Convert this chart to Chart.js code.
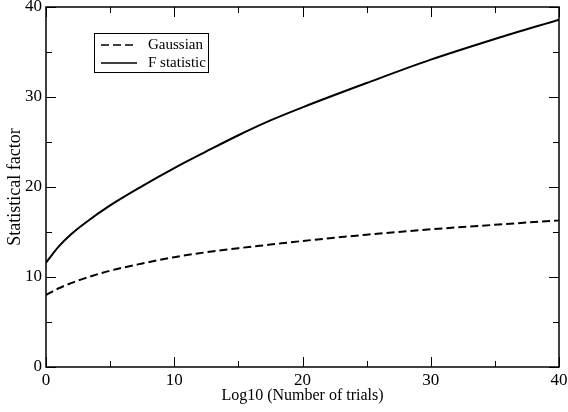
<!DOCTYPE html>
<html lang="en">
<head>
    <meta charset="UTF-8">
    <title>Statistical factor</title>
    <script src="https://cdn.jsdelivr.net/npm/chart.js@4.4.1/dist/chart.umd.min.js"></script>
    <style>
        body, html {
            margin: 0;
            padding: 0;
            background: #fff;
        }
        canvas {
            display: block;
        }
    </style>
</head>
<body>
    <canvas id="factorChart" width="568" height="412"></canvas>

    <script>
        // values
        const trials = [0, 1, 2, 3, 5, 7.5, 10, 12.5, 15, 17.5, 20, 25, 30, 35, 40];
        const gaussian = [8.0, 8.75, 9.35, 9.85, 10.7, 11.5, 12.2, 12.75, 13.2, 13.6, 14.0, 14.7, 15.3, 15.8, 16.3];
        const fStatistic = [11.6, 13.4, 14.8, 15.95, 17.95, 20.1, 22.1, 23.95, 25.75, 27.4, 28.85, 31.55, 34.15, 36.45, 38.6];
        const seriesNames = ['Gaussian', 'F statistic'];
        const tickMarks = [0, 5, 10, 15, 20, 25, 30, 35, 40];

        const serif = '"Liberation Serif", "Times New Roman", serif';
        Chart.defaults.font.family = serif;
        Chart.defaults.color = '#000';

        function toPoints(ys) {
            return trials.map((t, i) => ({ x: t, y: ys[i] }));
        }

        // frame, inward ticks on all four sides, and the boxed legend
        const framePlugin = {
            id: 'frame',
            afterDraw(chart) {
                const ctx = chart.ctx;
                const a = chart.chartArea;
                const xs = chart.scales.x;
                const ys = chart.scales.y;
                ctx.save();
                ctx.strokeStyle = '#000';
                ctx.lineWidth = 1;
                for (const v of tickMarks) {
                    const len = v % 10 === 0 ? 10 : 6;
                    const px = Math.round(xs.getPixelForValue(v)) + 0.5;
                    const py = Math.round(ys.getPixelForValue(v)) + 0.5;
                    ctx.beginPath();
                    ctx.moveTo(px, a.bottom); ctx.lineTo(px, a.bottom - len);
                    ctx.moveTo(px, a.top); ctx.lineTo(px, a.top + len);
                    ctx.moveTo(a.left, py); ctx.lineTo(a.left + len, py);
                    ctx.moveTo(a.right, py); ctx.lineTo(a.right - len, py);
                    ctx.stroke();
                }
                ctx.lineWidth = 1.5;
                ctx.strokeRect(a.left, a.top, a.right - a.left, a.bottom - a.top);

                // legend
                const bx = a.left + 48, by = a.top + 26;
                ctx.lineWidth = 1;
                ctx.strokeRect(bx + 0.5, by + 0.5, 114, 39);
                ctx.font = '15px ' + serif;
                ctx.fillStyle = '#000';
                ctx.textBaseline = 'middle';
                chart.data.datasets.forEach((ds, i) => {
                    const ly = by + 12 + i * 18;
                    ctx.lineWidth = 1.5;
                    ctx.setLineDash(ds.borderDash || []);
                    ctx.beginPath();
                    ctx.moveTo(bx + 7, ly);
                    ctx.lineTo(bx + 43, ly);
                    ctx.stroke();
                    ctx.setLineDash([]);
                    ctx.fillText(ds.label, bx + 54, ly);
                });
                ctx.restore();
            }
        };

        new Chart(document.getElementById('factorChart').getContext('2d'), {
            type: 'line',
            data: {
                datasets: [{
                    label: seriesNames[0],
                    data: toPoints(gaussian),
                    borderColor: '#000',
                    borderWidth: 2,
                    borderDash: [8, 4],
                    pointRadius: 0,
                    cubicInterpolationMode: 'monotone'
                }, {
                    label: seriesNames[1],
                    data: toPoints(fStatistic),
                    borderColor: '#000',
                    borderWidth: 2,
                    pointRadius: 0,
                    cubicInterpolationMode: 'monotone'
                }]
            },
            options: {
                responsive: false,
                animation: false,
                layout: { padding: { left: 4, top: 7, right: 9, bottom: 7 } },
                plugins: {
                    legend: { display: false },
                    tooltip: { enabled: false }
                },
                scales: {
                    x: {
                        type: 'linear',
                        min: 0,
                        max: 40,
                        grid: { display: false, drawTicks: false },
                        border: { display: false },
                        ticks: {
                            stepSize: 10,
                            padding: 3,
                            maxRotation: 0,
                            font: { size: 17 }
                        },
                        title: {
                            display: true,
                            text: 'Log10 (Number of trials)',
                            font: { size: 16 },
                            padding: { top: 0, bottom: 0 }
                        },
                        afterFit(scale) {
                            scale.height = 38;
                            scale.paddingLeft = 0;
                            scale.paddingRight = 0;
                        }
                    },
                    y: {
                        min: 0,
                        max: 40,
                        grid: { display: false, drawTicks: false },
                        border: { display: false },
                        ticks: {
                            stepSize: 10,
                            padding: 4,
                            font: { size: 17 }
                        },
                        title: {
                            display: true,
                            text: 'Statistical factor',
                            font: { size: 18 },
                            padding: { top: 0, bottom: 2 }
                        },
                        afterFit(scale) {
                            scale.width = 42;
                            scale.paddingTop = 0;
                            scale.paddingBottom = 0;
                        }
                    }
                }
            },
            plugins: [framePlugin]
        });
    </script>
</body>
</html>
